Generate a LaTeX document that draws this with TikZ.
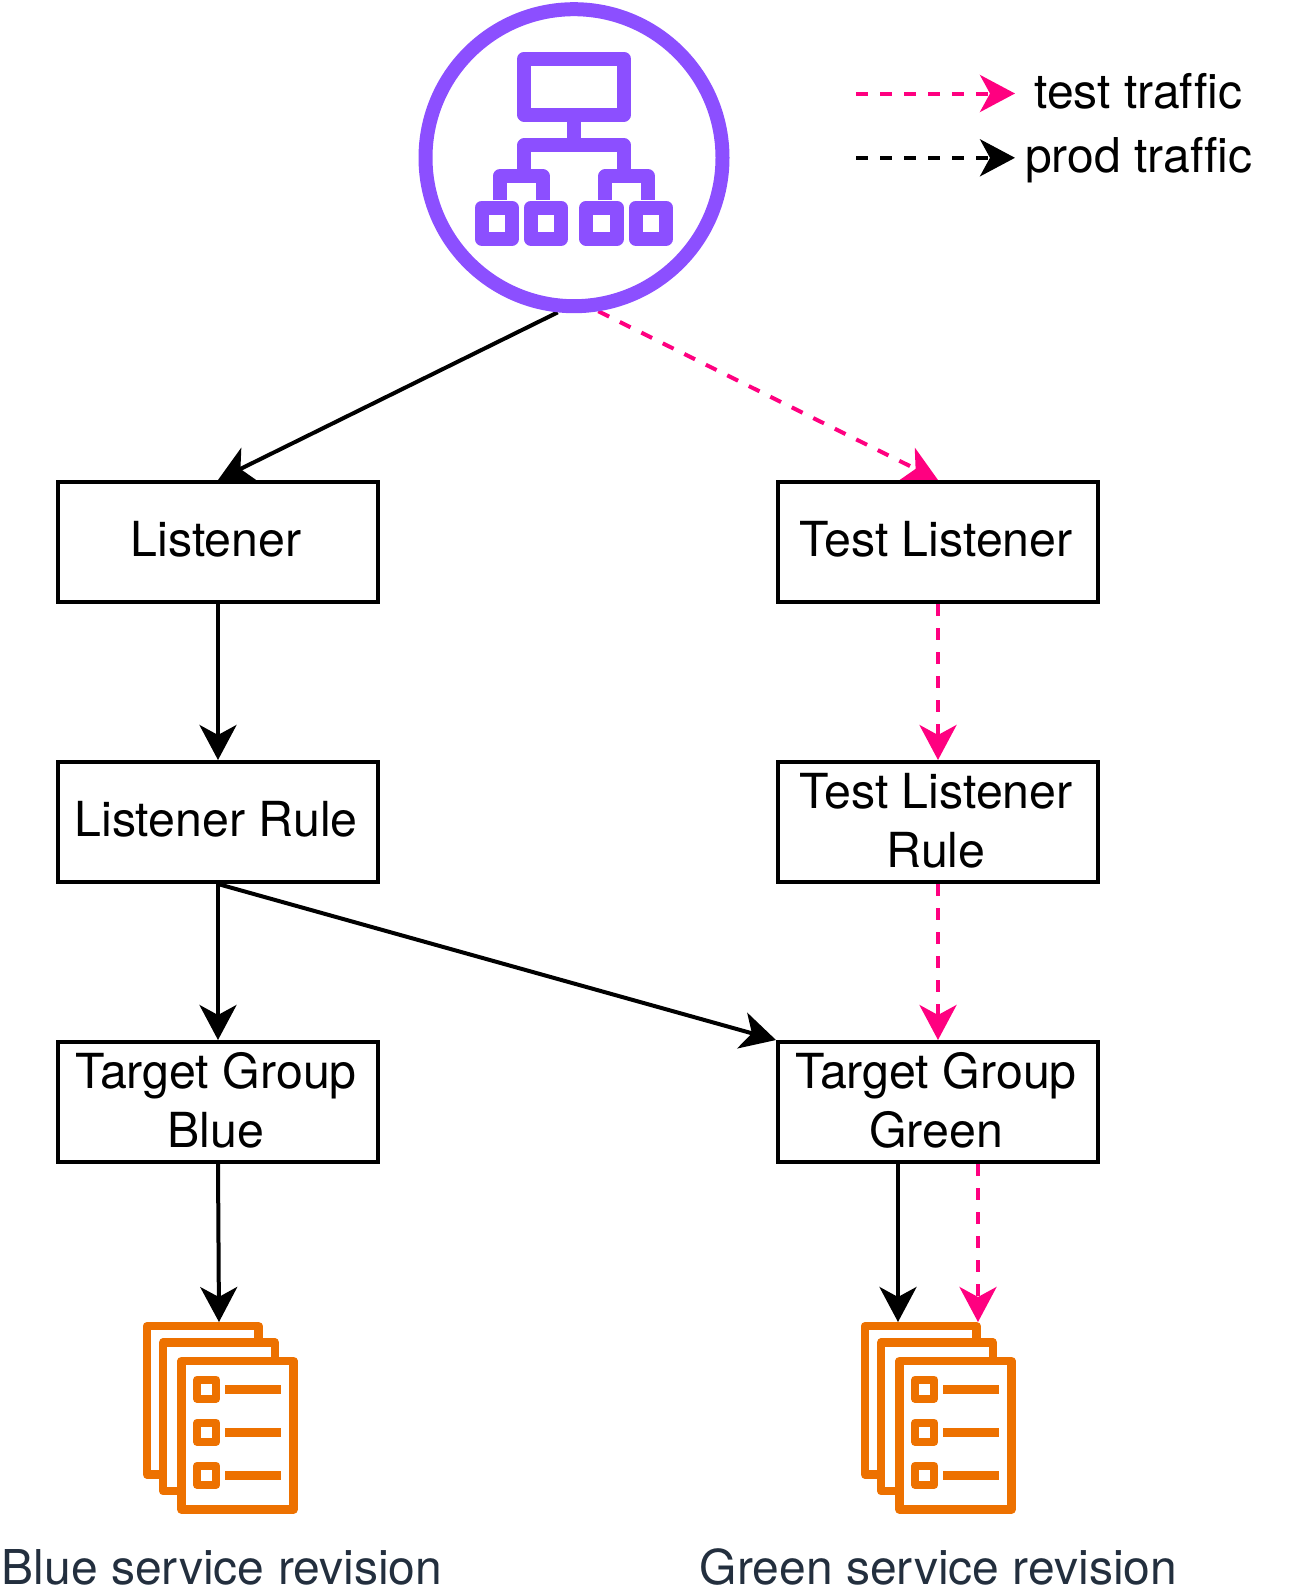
\documentclass[tikz,border=0pt]{standalone}
\usepackage{fontspec}
\setmainfont{TeX Gyre Heros}[Ligatures=NoCommon]
\usetikzlibrary{arrows.meta,backgrounds}
\definecolor{lbpurple}{HTML}{8C4FFF}
\definecolor{svcorange}{HTML}{ED7100}
\definecolor{testpink}{HTML}{FF0080}
\definecolor{slate}{HTML}{232F3E}
\newcommand{\nudge}[1]{\mbox{#1\kern4pt}}
\newcommand{\pileicon}[1]{%
  \begin{scope}[shift={(#1,0)},draw=svcorange,line width=8.4pt,line join=round]
    \draw (976.5,1342) -- (976.5,1326.15) -- (864.85,1326.15) -- (864.85,1474.5) -- (881,1474.5);
    \draw (992.85,1360) -- (992.85,1342.45) -- (881.15,1342.45) -- (881.15,1491.15) -- (899,1491.15);
    \draw (899.45,1360.85) rectangle (1011.55,1509.55);
    \foreach \r in {1389.2,1432.3,1475.3} {
      \draw (915.2,\r-9.5) rectangle (934.1,\r+9.5);
      \draw[line width=9pt] (943,\r) -- (999,\r);
    }
  \end{scope}}
\tikzset{
  x=1pt,y=-1pt,
  boxnode/.style={draw=black,fill=white,line width=4pt,rectangle,minimum width=320pt,minimum height=120pt,
    inner sep=0pt,align=center,font=\fontsize{48.3pt}{59pt}\selectfont,text height=37pt,text depth=8pt},
  twoline/.style={text height=100pt,text depth=8.6pt},
  plain/.style={inner sep=0pt,anchor=base,font=\fontsize{48pt}{59pt}\selectfont},
  caption/.style={plain,text=slate},
  link/.style={line width=4pt,-{Stealth[length=35pt,width=37pt,inset=10pt]}},
  prodlink/.style={link,draw=black},
  testlink/.style={link,draw=testpink,dash pattern=on 12pt off 12pt},
  keylink/.style={line width=4pt,dash pattern=on 12pt off 12pt,-{Stealth[length=35pt,width=37pt,inset=10pt]}},
  purpleline/.style={draw=lbpurple,line width=14pt,line join=round}
}
\begin{document}
\begin{tikzpicture}
\useasboundingbox (0,0) rectangle (1300,1596);
% load balancer
\node[circle,draw=lbpurple,line width=14pt,minimum size=297pt,inner sep=0pt] (lb) at (574,157.7) {};
\draw[purpleline] (524.3,58.6) rectangle (623.9,114.7);
\draw[purpleline] (574,121) -- (574,145.3);
\draw[purpleline] (524.3,176.3) -- (524.3,145.3) -- (623.9,145.3) -- (623.9,176.3);
\draw[purpleline] (499.7,200) -- (499.7,176.3) -- (542.8,176.3) -- (542.8,200);
\draw[purpleline] (605.3,200) -- (605.3,176.3) -- (648.2,176.3) -- (648.2,200);
\draw[purpleline] (481.6,207.7) rectangle (512.1,238.7);
\draw[purpleline] (530.7,207.7) rectangle (561.3,238.7);
\draw[purpleline] (586.3,207.7) rectangle (617,238.7);
\draw[purpleline] (635.7,207.7) rectangle (666.3,238.7);
% boxes
\node[boxnode] (listener) at (218,542) {\nudge{Listener}};
\node[boxnode] (testlistener) at (938,542) {\nudge{Test Listener}};
\node[boxnode] (rule) at (218,822) {\nudge{Listener Rule}};
\node[boxnode,twoline] (testrule) at (938,822) {\nudge{Test Listener}\\\nudge{Rule}};
\node[boxnode,twoline] (tgblue) at (218,1102) {\nudge{Target Group}\\\nudge{Blue}};
\node[boxnode,twoline] (tggreen) at (938,1102) {\nudge{Target Group}\\\nudge{Green}};
% service icons
\pileicon{-718}
\pileicon{0}
\coordinate (blueend) at (219,1322);
\coordinate (greenprod) at (898,1322);
\coordinate (greentest) at (978,1322);
% captions
\node[caption] (bluecap) at (222,1584) {Blue service revision};
\node[caption] (greencap) at (938.5,1584) {Green service revision};
% legend
\coordinate (keytesta) at (856,93.5);
\coordinate (keytestb) at (1015,93.5);
\coordinate (keyproda) at (856,157.8);
\coordinate (keyprodb) at (1015,157.8);
\node[plain] (keytest) at (1138.3,108.7) {test traffic};
\node[plain] (keyprod) at (1138.7,172.7) {prod traffic};
% connectors
\begin{scope}[on background layer]
\draw[prodlink] (lb.264) -- (listener.north);
\draw[testlink] (lb.279) -- (testlistener.north);
\draw[prodlink] (listener.south) -- (rule.north);
\draw[testlink] (testlistener.south) -- (testrule.north);
\draw[prodlink] (rule.south) -- (tgblue.north);
\draw[prodlink] (rule.south) -- (tggreen.north west);
\draw[testlink] (testrule.south) -- (tggreen.north);
\draw[prodlink] (tgblue.south) -- (blueend);
\draw[prodlink] (greenprod |- tggreen.south) -- (greenprod);
\draw[testlink] (greentest |- tggreen.south) -- (greentest);
\draw[keylink,draw=testpink] (keytesta) -- (keytestb);
\draw[keylink,draw=black] (keyproda) -- (keyprodb);
\end{scope}
\end{tikzpicture}
\end{document}
